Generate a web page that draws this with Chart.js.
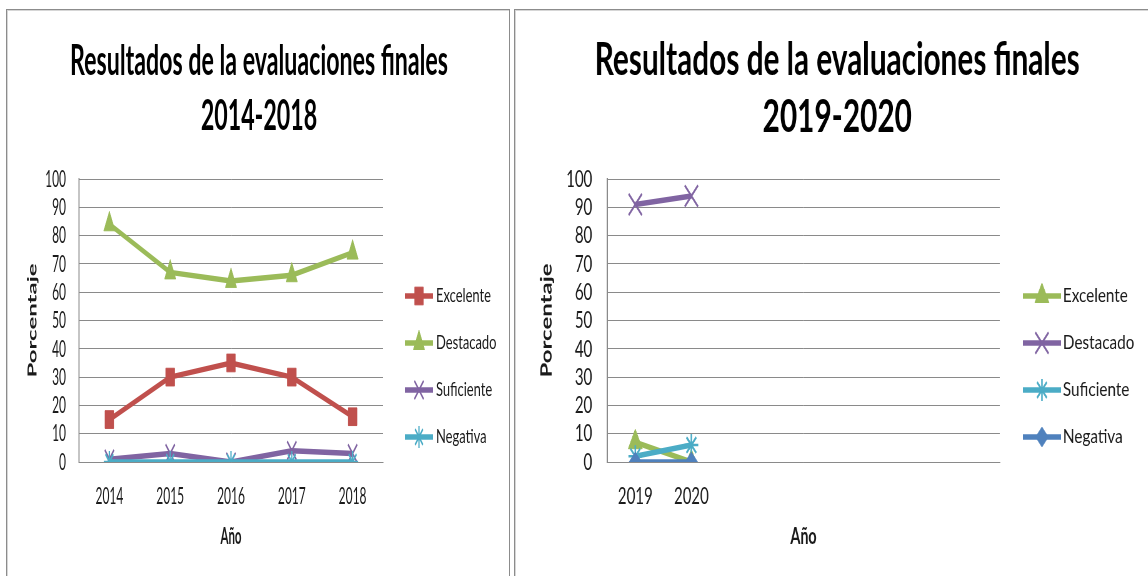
<!DOCTYPE html>
<html>
<head>
<meta charset="utf-8">
<script src="https://cdn.jsdelivr.net/npm/chart.js"></script>
<style>
html,body{margin:0;padding:0;background:#fff;}
body{width:1148px;height:576px;position:relative;overflow:hidden;}
.panel{position:absolute;top:9px;border:1px solid #8c8c8c;border-bottom:none;box-shadow:inset 1px 1px 0 #d6d6d6;background:#fff;}
#p1{left:6px;width:502px;height:600px;}
#p2{left:514px;width:660px;height:600px;}
.wrap{position:absolute;top:10px;height:566px;transform-origin:0 0;}
#w1{left:8px;width:1000px;transform:scaleX(0.5);}
#w2{left:516px;width:1011px;transform:scaleX(0.625);}
</style>
</head>
<body>
<div class="panel" id="p1"></div>
<div class="panel" id="p2"></div>
<div class="wrap" id="w1"><canvas id="c1"></canvas></div>
<div class="wrap" id="w2"><canvas id="c2"></canvas></div>
<script>
// ---------- data ----------
const categories1 = ['2014', '2015', '2016', '2017', '2018'];
const excelente1  = [15, 30, 35, 30, 16];
const destacado1  = [84, 67, 64, 66, 74];
const suficiente1 = [1, 3, 0, 4, 3];
const negativa1   = [0, 0, 0, 0, 0];

const categories2 = ['2019', '2020'];
const excelente2  = [7, 0];
const destacado2  = [91, 94];
const suficiente2 = [2, 6];
const negativa2   = [0, 0];

const seriesNames = ['Excelente', 'Destacado', 'Suficiente', 'Negativa'];
const title1 = ['Resultados de la evaluaciones finales', '2014-2018'];
const title2 = ['Resultados de la evaluaciones finales', '2019-2020'];
const yAxisTitle = 'Porcentaje';
const xAxisTitle = 'Año';
const yMin = 0, yMax = 100, yStep = 10;
const rightSlots = 7; // category slots on the right chart's axis

// ---------- styles ----------
const RED = '#C0504D', GREEN = '#9BBB59', PURPLE = '#8064A2', CYAN = '#4BACC6', BLUE = '#4F81BD';
const GRID = '#8a8a8a';
const TXT = '#1a1a1a';

function ds(label, data, color, pointStyle, radius, pbw, order) {
  return {
    label, data, order,
    borderColor: color, backgroundColor: color,
    borderWidth: 5.5,
    pointStyle, pointRadius: radius, pointHoverRadius: radius,
    pointBackgroundColor: color, pointBorderColor: color, pointBorderWidth: pbw,
    tension: 0, fill: false
  };
}

function decorPlugin(conf) {
  return {
    id: 'decor',
    afterDraw(chart) {
      const ctx = chart.ctx;
      ctx.save();
      // title
      ctx.font = 'bold ' + conf.titleSize + 'px Lato';
      ctx.fillStyle = '#000';
      ctx.textAlign = 'center';
      ctx.textBaseline = 'alphabetic';
      const sx = conf.titleWidth / ctx.measureText(conf.title[0]).width;
      conf.title.forEach((t, i) => {
        ctx.save();
        ctx.translate(conf.titleX, conf.titleY[i]);
        ctx.scale(sx, 1);
        ctx.fillText(t, 0, 0);
        ctx.restore();
      });
      // legend
      ctx.font = conf.legendSize + 'px Lato';
      const lsx = conf.legendWidth0 / ctx.measureText(chart.data.datasets[0].label).width;
      chart.data.datasets.forEach((d, i) => {
        const y = conf.legendY[i];
        ctx.strokeStyle = d.borderColor;
        ctx.lineWidth = d.borderWidth;
        ctx.beginPath();
        ctx.moveTo(conf.legendX1, y);
        ctx.lineTo(conf.legendX2, y);
        ctx.stroke();
        ctx.fillStyle = d.pointBackgroundColor;
        ctx.strokeStyle = d.pointBorderColor;
        ctx.lineWidth = d.pointBorderWidth;
        Chart.helpers.drawPoint(ctx, {pointStyle: d.pointStyle, rotation: 0, radius: d.pointRadius, borderWidth: d.pointBorderWidth},
          (conf.legendX1 + conf.legendX2) / 2, y);
        ctx.fillStyle = TXT;
        ctx.textAlign = 'left';
        ctx.textBaseline = 'middle';
        ctx.font = conf.legendSize + 'px Lato';
        ctx.save();
        ctx.translate(conf.legendTextX, y);
        ctx.scale(lsx, 1);
        ctx.fillText(d.label, 0, 0);
        ctx.restore();
      });
      ctx.restore();
    }
  };
}

function makeChart(id, labels, datasets, lay) {
  return new Chart(document.getElementById(id), {
    type: 'line',
    data: { labels, datasets },
    options: {
      responsive: true,
      maintainAspectRatio: false,
      animation: false,
      devicePixelRatio: 1,
      layout: { padding: { left: 0, top: 169, right: lay.padRight, bottom: 14 } },
      plugins: { legend: { display: false }, tooltip: { enabled: false }, title: { display: false } },
      scales: {
        x: {
          type: 'category',
          offset: true,
          grid: { display: false, drawTicks: false },
          border: { display: true, color: GRID, width: 1 },
          ticks: { color: TXT, font: { family: 'Lato', size: 24 }, padding: 20, maxRotation: 0, autoSkip: false },
          title: { display: true, text: xAxisTitle, color: TXT, font: { family: 'Lato', size: 23, weight: 'bold', lineHeight: 1.2 }, padding: { top: 0, bottom: 12 } },
          afterFit(s) { s.height = 100; }
        },
        y: {
          min: yMin, max: yMax,
          grid: { color: GRID, lineWidth: 1, drawTicks: false },
          border: { display: true, color: GRID, width: 2 },
          ticks: { stepSize: yStep, autoSkip: false, color: TXT, font: { family: 'Lato', size: 24 }, padding: lay.yTickPad },
          title: { display: true, text: yAxisTitle, color: TXT, font: { family: 'Lato', size: 24, weight: 'bold', lineHeight: 1.2 }, padding: { top: 35, bottom: 0 } },
          afterFit(s) { s.width = lay.yWidth; }
        }
      }
    },
    plugins: [decorPlugin(lay)]
  });
}

function start() {
  makeChart('c1', categories1, [
    ds(seriesNames[0], excelente1, RED, 'rect', 12.5, 1, 3),
    ds(seriesNames[1], destacado1, GREEN, 'triangle', 13, 1, 2),
    ds(seriesNames[2], suficiente1, PURPLE, 'crossRot', 13, 2.5, 1),
    ds(seriesNames[3], negativa1, CYAN, 'star', 11, 2.5, 0)
  ], {
    padRight: 250, yWidth: 142, yTickPad: 26,
    title: title1, titleSize: 42, titleX: 502, titleY: [65, 120], titleWidth: 756,
    legendX1: 794, legendX2: 850, legendTextX: 856, legendY: [286, 333, 380, 427], legendWidth0: 110, legendSize: 19
  });

  const labels2 = categories2.concat(new Array(rightSlots - categories2.length).fill(''));
  makeChart('c2', labels2, [
    ds(seriesNames[0], excelente2, GREEN, 'triangle', 13, 1, 3),
    ds(seriesNames[1], destacado2, PURPLE, 'crossRot', 15, 2.5, 2),
    ds(seriesNames[2], suficiente2, CYAN, 'star', 11, 2.5, 1),
    ds(seriesNames[3], negativa2, BLUE, 'rectRot', 10, 1, 0)
  ], {
    padRight: 237, yWidth: 146, yTickPad: 24,
    title: title2, titleSize: 45, titleX: 514, titleY: [65, 122], titleWidth: 776,
    legendX1: 811, legendX2: 872, legendTextX: 875, legendY: [286, 333, 380, 427], legendWidth0: 104, legendSize: 19
  });
}

Promise.all([
  document.fonts.load('bold 42px Lato'),
  document.fonts.load('24px Lato')
]).then(start, start);
</script>
</body>
</html>
